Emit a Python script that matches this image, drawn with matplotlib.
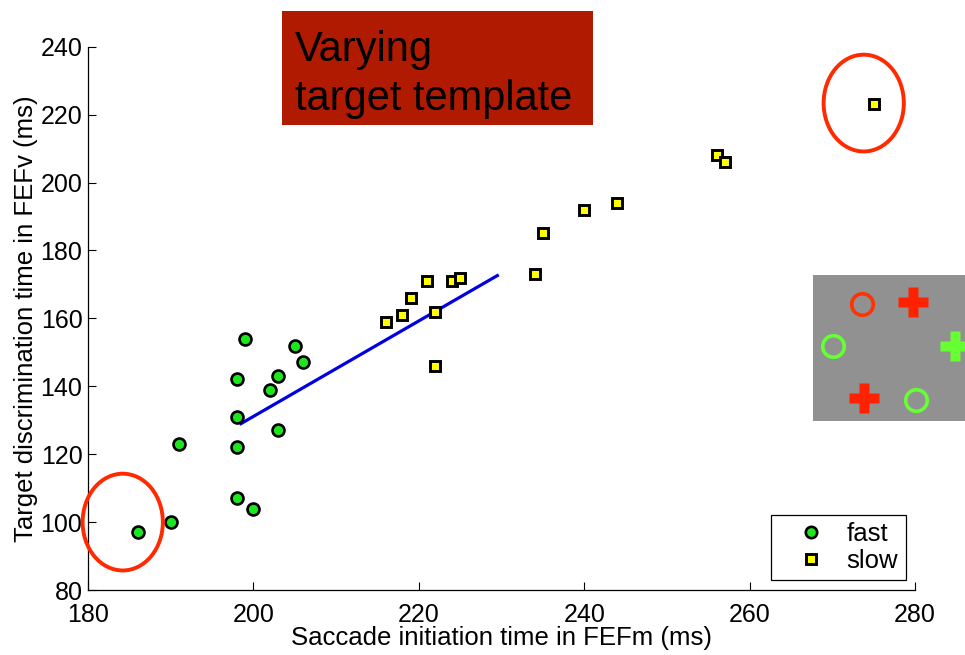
import matplotlib.pyplot as plt
from matplotlib.patches import Ellipse, Rectangle

plt.rcParams['font.family'] = ['Liberation Sans', 'DejaVu Sans']

# saccade initiation (FEFm) vs target discrimination (FEFv), ms
fast_x = [186, 190, 191, 198, 200, 198, 198, 198, 199, 202, 203, 203, 205, 206]
fast_y = [97, 100, 123, 107, 104, 122, 131, 142, 154, 139, 143, 127, 152, 147]

slow_x = [216, 218, 219, 221, 222, 222, 224, 225, 234, 235, 240, 244, 256, 257, 275]
slow_y = [159, 161, 166, 171, 162, 146, 171, 172, 173, 185, 192, 194, 208, 206, 223]

# regression line end points
fit_x = [198.5, 229.5]
fit_y = [129, 172.6]

# circled outliers: centre x, centre y
outlier_x = [184.2, 273.8]
outlier_y = [100, 223.4]

# search display sketch: (x, y, kind, colour) in inset pixel units
stim = [
    (49, 29, 'o', '#ff3300'),
    (100, 27, 'P', '#ff2200'),
    (20, 71, 'o', '#66ff33'),
    (142, 71, 'P', '#66ff33'),
    (51, 123, 'P', '#ff2200'),
    (103, 125, 'o', '#66ff33'),
]

fig = plt.figure(figsize=(9.65, 6.55), dpi=100)
ax = fig.add_axes([88 / 965, 1 - 590 / 655, 827 / 965, 543.3 / 655])

ax.plot(fit_x, fit_y, color='#0000e0', lw=2.3, zorder=2)
ax.plot(fast_x, fast_y, 'o', ms=8.6, mfc='#1ee61e', mec='black', mew=1.9,
        ls='none', label='fast', zorder=3)
ax.plot(slow_x, slow_y, 's', ms=7.4, mfc='#ffff00', mec='black', mew=2.1,
        ls='none', label='slow', zorder=3)

for cx, cy in zip(outlier_x, outlier_y):
    ax.add_patch(Ellipse((cx, cy), 9.7, 28.5, fill=False, ec='#ff2a00',
                         lw=2.8, clip_on=False, zorder=4))

ax.set_xlim(180, 280)
ax.set_ylim(80, 240)
ax.set_xticks(range(180, 281, 20))
ax.set_yticks(range(80, 241, 20))
ax.tick_params(direction='in', length=6, width=0.8, labelsize=18)
ax.tick_params(axis='x', pad=9)
ax.tick_params(axis='y', pad=4)
for s in ['top', 'right']:
    ax.spines[s].set_visible(False)
for s in ['left', 'bottom']:
    ax.spines[s].set_linewidth(0.9)

ax.set_xlabel('Saccade initiation time in FEFm (ms)', fontsize=18.5, labelpad=0)
ax.set_ylabel('Target discrimination time in FEFv (ms)', fontsize=18.5, labelpad=2)

leg = ax.legend(loc='lower right', bbox_to_anchor=(0.989, 0.018), borderaxespad=0,
                fontsize=18.5, markerscale=0.95, fancybox=False, edgecolor='black',
                framealpha=1, borderpad=0.3, handlelength=2.5, handletextpad=0.15,
                labelspacing=0.08)
leg.get_frame().set_linewidth(0.9)

# title box
fig.patches.append(Rectangle((282 / 965, 1 - 125 / 655), 311 / 965, 114 / 655,
                             transform=fig.transFigure, fc='#b01a00', ec='none'))
fig.text(295 / 965, 1 - 61 / 655, 'Varying', fontsize=30, color='black', va='baseline')
fig.text(295 / 965, 1 - 110 / 655, 'target template', fontsize=30, color='black',
         va='baseline')

# inset: search display
inset = fig.add_axes([813 / 965, 1 - 421 / 655, 162 / 965, 146 / 655])
inset.set_facecolor('#919191')
inset.set_xlim(0, 162)
inset.set_ylim(146, 0)
inset.set_xticks([])
inset.set_yticks([])
for s in inset.spines.values():
    s.set_visible(False)
for x, y, kind, col in stim:
    if kind == 'o':
        inset.plot(x, y, 'o', ms=15.5, mfc='none', mec=col, mew=2.6)
    else:
        inset.plot(x, y, 'P', ms=21, mfc=col, mec='none')

fig.savefig('out.png', dpi=100)
